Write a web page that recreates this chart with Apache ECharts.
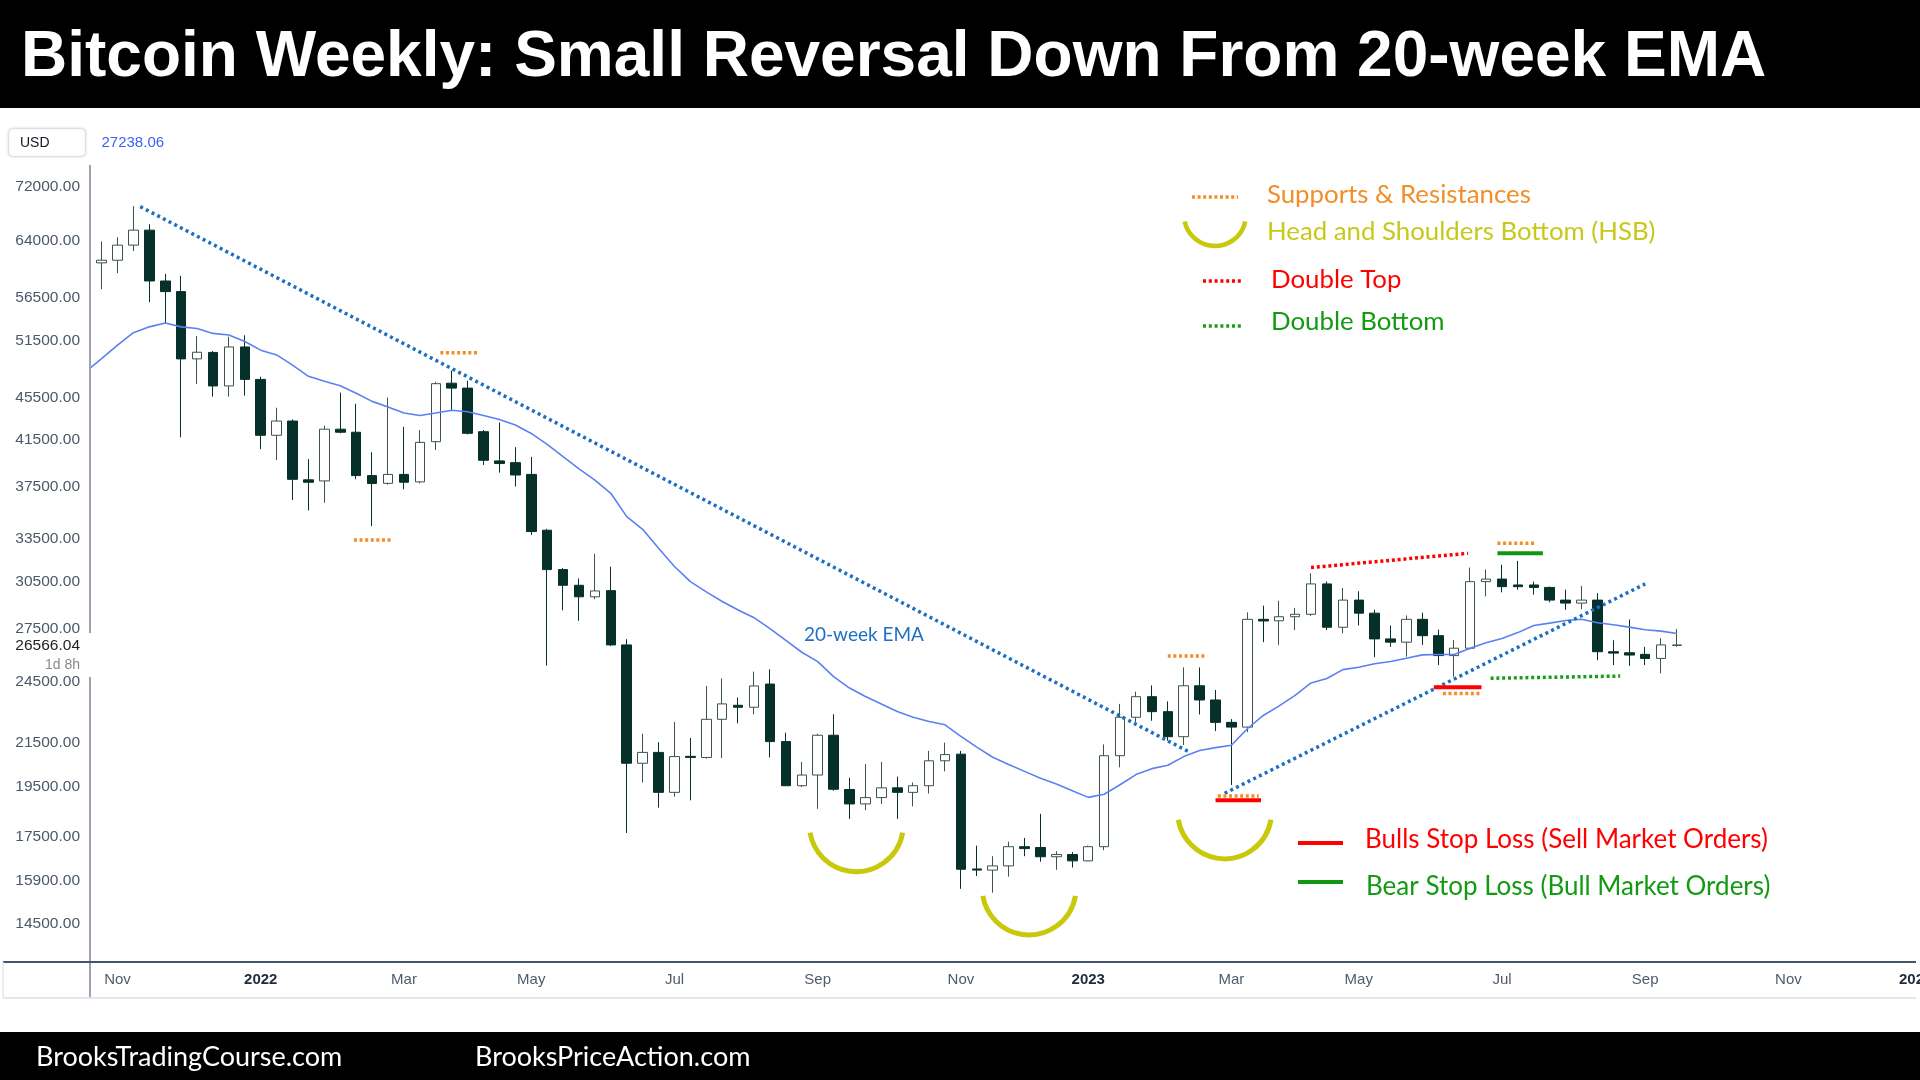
<!DOCTYPE html>
<html><head><meta charset="utf-8">
<script src="https://cdn.jsdelivr.net/npm/echarts@6/dist/echarts.min.js"></script>
<style>html,body{margin:0;padding:0;background:#fff}#c{width:1920px;height:1080px}</style>
</head><body><div id="c"></div>
<script>
// ---------- data (weekly BTC/USD) ----------
const weeks = [
'2021-10-25','2021-11-01','2021-11-08','2021-11-15','2021-11-22','2021-11-29','2021-12-06','2021-12-13','2021-12-20','2021-12-27',
'2022-01-03','2022-01-10','2022-01-17','2022-01-24','2022-01-31','2022-02-07','2022-02-14','2022-02-21','2022-02-28','2022-03-07',
'2022-03-14','2022-03-21','2022-03-28','2022-04-04','2022-04-11','2022-04-18','2022-04-25','2022-05-02','2022-05-09','2022-05-16',
'2022-05-23','2022-05-30','2022-06-06','2022-06-13','2022-06-20','2022-06-27','2022-07-04','2022-07-11','2022-07-18','2022-07-25',
'2022-08-01','2022-08-08','2022-08-15','2022-08-22','2022-08-29','2022-09-05','2022-09-12','2022-09-19','2022-09-26','2022-10-03',
'2022-10-10','2022-10-17','2022-10-24','2022-10-31','2022-11-07','2022-11-14','2022-11-21','2022-11-28','2022-12-05','2022-12-12',
'2022-12-19','2022-12-26','2023-01-02','2023-01-09','2023-01-16','2023-01-23','2023-01-30','2023-02-06','2023-02-13','2023-02-20',
'2023-02-27','2023-03-06','2023-03-13','2023-03-20','2023-03-27','2023-04-03','2023-04-10','2023-04-17','2023-04-24','2023-05-01',
'2023-05-08','2023-05-15','2023-05-22','2023-05-29','2023-06-05','2023-06-12','2023-06-19','2023-06-26','2023-07-03','2023-07-10',
'2023-07-17','2023-07-24','2023-07-31','2023-08-07','2023-08-14','2023-08-21','2023-08-28','2023-09-04','2023-09-11','2023-09-18'];
const open = [
61000,61350,63400,65500,58640,57300,49500,50200,46670,50800,
47340,41920,43240,38050,37960,42480,42200,38400,37760,38500,
37880,41340,46950,46450,42250,39650,39500,38500,34100,31300,
30250,29500,29900,26570,20540,21030,19280,20850,20800,22600,
23300,23200,24400,21530,19560,20020,21830,19400,18800,19060,
19470,19280,19560,20650,20950,16320,16280,16430,17130,17100,
16760,16840,16610,17130,20880,22700,23740,22980,21760,24310,
23570,22450,22220,28090,28000,28250,28400,30340,27610,29290,
28470,26920,26730,28090,27110,25960,26380,30490,30660,30270,
30270,30110,29290,29100,29290,26180,26120,26030,25800,26540];
const close = [
61350,63400,65500,58640,57300,49500,50220,46670,50800,47340,
41920,43240,38090,37850,42480,42200,38400,37750,38500,37850,
41280,46900,46450,42100,39700,39420,38450,34000,31300,30250,
29500,29880,26570,20540,21030,19280,20840,20800,22600,23370,
23200,24300,21530,19560,20020,21830,19410,18800,19060,19470,
19280,19560,20650,20930,16310,16280,16430,17130,17060,16760,
16840,16610,17130,20880,22700,23740,22980,21760,24310,23570,
22450,22220,28090,27990,28250,28400,30340,27610,29290,28470,
26920,26730,28090,27110,25960,26380,30490,30660,30160,30160,
30110,29290,29100,29290,26180,26100,25990,25800,26570,26566.04];
const high = [
63900,64500,69000,66350,59550,59300,52030,50350,51950,52110,
47620,44510,43400,39800,42800,46000,44900,40400,45500,42700,
42400,47100,48250,47200,42400,43100,40850,40000,34200,31400,
30700,32400,31500,26900,21900,21500,22470,21700,24300,24700,
23700,25070,25200,21950,20600,21900,22850,19900,20500,20600,
19950,19700,21100,21480,21100,17170,16780,17320,17460,18400,
16960,16930,17170,21400,23370,24000,24330,23500,25300,25300,
24090,22610,28520,28940,29250,28800,31050,30500,30070,29860,
28680,27720,28330,28500,27470,26860,31440,31300,31640,31900,
30490,30160,29960,30200,29740,26840,28080,26460,26960,27500];
const low = [
57600,59650,62600,56000,53420,41740,46880,45600,45600,45700,
40670,39720,36420,35600,36200,42100,38100,34400,37650,37270,
37760,40600,44300,42000,39300,38650,37500,33750,25400,28650,
28000,29350,26500,17650,19700,18650,19100,18950,20750,20770,
22400,22850,20800,19550,19500,18600,19350,18200,18550,18800,
18200,18700,19230,20180,15630,16070,15500,16050,16780,16580,
16290,16370,16600,17000,20360,22470,22530,21570,21370,22840,
22030,19590,21980,26730,26570,27440,28300,27440,27250,27720,
25870,26460,25900,26570,25430,24800,26300,29530,29790,29960,
29640,29150,28680,28720,25700,25430,25390,25430,24980,26460];
const ema20 = [
49520,51000,52400,53070,53520,53070,52880,52320,52140,51400,
50450,49930,48830,47660,47140,46700,45940,45130,44590,44010,
43760,44010,44270,44130,43760,43380,42870,42090,41100,40010,
38960,38030,36950,35120,34170,32790,31510,30490,29820,29200,
28670,28190,27530,26830,26150,25620,24800,24190,23750,23370,
22990,22700,22490,22330,21780,21270,20810,20480,20180,19880,
19630,19350,19070,19200,19600,20040,20300,20450,20840,21120,
21250,21360,22140,22790,23270,23810,24460,24700,25180,25310,
25500,25630,25810,26000,26020,26020,26380,26690,26940,27290,
27720,27860,28020,28100,27880,27760,27620,27460,27380,27238.06];
const emaLead = ['2021-10-18', 48150];
const lastPrice = '26566.04';
const lastEma = '27238.06';
const timeLeft = '1d 8h';

const yTicks = [72000,64000,56500,51500,45500,41500,37500,33500,30500,27500,24500,21500,19500,17500,15900,14500];
const xTickDates = ['2021-11-01','2022-01-03','2022-03-07','2022-05-02','2022-07-04','2022-09-05','2022-11-07','2023-01-02','2023-03-06','2023-05-01','2023-07-03','2023-09-04','2023-11-06','2024-01-01'];
const xTickLabels = ['Nov','2022','Mar','May','Jul','Sep','Nov','2023','Mar','May','Jul','Sep','Nov','2024'];

// annotations (dates, prices)
const downTrend = [['2021-11-11', 68930], ['2023-02-16', 21020]];
const upTrend = [['2023-03-03', 19240], ['2023-09-04', 30340]];
const srLevels = [
  ['2022-02-13','2022-03-02', 33380],
  ['2022-03-23','2022-04-09', 50170],
  ['2023-02-06','2023-02-23', 25940],
  ['2023-02-28','2023-03-18', 19130],
  ['2023-06-07','2023-06-24', 23910],
  ['2023-07-01','2023-07-18', 33150]];
const doubleTop = [['2023-04-10', 31440], ['2023-06-18', 32430]];
const doubleBottom = [['2023-06-28', 24710], ['2023-08-24', 24830]];
const bullStops = [['2023-02-27','2023-03-19', 18950], ['2023-06-03','2023-06-24', 24230]];
const bearStops = [['2023-07-01','2023-07-21', 32430]];
const hsbCenters = [['2022-09-22', 17970], ['2022-12-07', 15660], ['2023-03-03', 18480]];

// ---------- helpers ----------
const L = v => Math.log10(v);
const ts = s => Date.parse(s.length > 10 ? s + 'Z' : s + 'T00:00:00Z');
const xMin = ts('2021-10-19T21:30:00'), xMax = ts('2024-01-01T03:00:00');
const yTop = 75470, yBottom = 13330;

const ORANGE = '#f28d27', RED = '#ff0000', GREEN = '#139a13', OLIVE = '#c9c90c', BLUE = '#1f6fc5';

function seg(points, color, width, dash) {
  return { type: 'line', data: points.map(p => [ts(p[0]), L(p[1])]), symbol: 'none', silent: true,
    animation: false, z: 5, clip: false, lineStyle: { color: color, width: width, type: dash || 'solid', cap: 'butt' } };
}
const series = [];
series.push({
  type: 'candlestick', barWidth: 10, silent: true, z: 2,
  encode: { x: 0, y: [1, 2, 3, 4] },
  data: weeks.map((w, i) => [ts(w), L(open[i]), L(close[i]), L(low[i]), L(high[i])]),
  itemStyle: { color: '#ffffff', color0: '#06302a', borderColor: '#3b524d', borderColor0: '#06302a', borderColorDoji: '#3b524d', borderWidth: 1 }
});
series.push({
  type: 'line', symbol: 'none', silent: true, z: 3,
  data: [[ts(emaLead[0]), L(emaLead[1])]].concat(weeks.map((w, i) => [ts(w), L(ema20[i])])),
  lineStyle: { color: '#5b80f2', width: 1.6 }
});
series.push(seg(downTrend, '#1b6ec2', 3.5, [3, 3.4]));
series.push(seg(upTrend, '#1b6ec2', 3.5, [3, 3.4]));
srLevels.forEach(s => series.push(seg([[s[0], s[2]], [s[1], s[2]]], ORANGE, 3.5, [3, 2.6])));
series.push(seg(doubleTop, RED, 3.5, [3, 2.8]));
series.push(seg(doubleBottom, '#1a9e1a', 3.5, [3, 2.8]));
bullStops.forEach(s => series.push(seg([[s[0], s[2]], [s[1], s[2]]], RED, 4)));
bearStops.forEach(s => series.push(seg([[s[0], s[2]], [s[1], s[2]]], '#119611', 4)));
series.push({
  type: 'custom', silent: true, z: 6, clip: false,
  data: hsbCenters.map(c => [ts(c[0]), L(c[1])]),
  encode: { x: 0, y: 1 },
  renderItem: (p, api) => {
    const pt = api.coord([api.value(0), api.value(1)]);
    return { type: 'arc', shape: { cx: pt[0], cy: pt[1], r: 47, startAngle: 0.17, endAngle: Math.PI - 0.17, clockwise: true },
      style: { stroke: OLIVE, lineWidth: 5, fill: null } };
  }
});

function T(text, x, y, size, color, o) {
  o = o || {};
  return { type: 'text', x: x, y: y, z: 100, silent: true,
    style: { text: text, fill: color, fontSize: size, fontFamily: o.family || 'Lato', fontWeight: o.weight || 'normal',
      align: o.align || 'left', verticalAlign: 'middle' } };
}
function Ln(x1, y1, x2, y2, color, w, dash) {
  return { type: 'line', z: 100, silent: true, shape: { x1: x1, y1: y1, x2: x2, y2: y2 },
    style: { stroke: color, lineWidth: w, lineDash: dash || null, lineCap: 'butt' } };
}
const graphic = [
  { type: 'rect', z: 90, silent: true, shape: { x: 0, y: 0, width: 1920, height: 108 }, style: { fill: '#000' } },
  T('Bitcoin Weekly: Small Reversal Down From 20-week EMA', 21, 58, 64, '#ffffff', { family: 'Liberation Sans', weight: 'bold' }),
  { type: 'rect', z: 90, silent: true, shape: { x: 0, y: 1032, width: 1920, height: 48 }, style: { fill: '#000' } },
  T('BrooksTradingCourse.com', 36, 1057, 27, '#ffffff'),
  T('BrooksPriceAction.com', 475, 1057, 27, '#ffffff'),
  { type: 'rect', z: 95, silent: true, shape: { x: 8.5, y: 128.5, width: 77, height: 28, r: 4 },
    style: { fill: '#fff', stroke: '#dcdfe6', lineWidth: 1, shadowBlur: 3, shadowColor: 'rgba(0,0,0,0.12)' } },
  T('USD', 20, 143, 14, '#131722', { family: 'Liberation Sans' }),
  T(lastEma, 101.5, 143, 15, '#3a63f0', { family: 'Liberation Sans' }),
  Ln(90, 165, 90, 633, '#9aa3b0', 2),
  Ln(90, 677, 90, 998, '#9aa3b0', 2),
  Ln(3, 962, 1916, 962, '#44546a', 2),
  Ln(3, 998, 1916, 998, '#e3e6ee', 2),
  Ln(3, 962, 3, 998, '#e3e6ee', 1.5),
  T(lastPrice, 80, 645.5, 15.5, '#222222', { family: 'Liberation Sans', align: 'right' }),
  T(timeLeft, 80, 665, 14, '#8a8a8a', { family: 'Liberation Sans', align: 'right' }),
  // legend
  Ln(1192, 197, 1238, 197, ORANGE, 3.5, [3, 2.6]),
  T('Supports & Resistances', 1267, 195, 25.8, ORANGE),
  { type: 'arc', z: 100, silent: true, shape: { cx: 1215, cy: 215, r: 31, startAngle: 0.21, endAngle: Math.PI - 0.21, clockwise: true },
    style: { stroke: OLIVE, lineWidth: 4.5, fill: null } },
  T('Head and Shoulders Bottom (HSB)', 1267, 232, 25.8, '#c8c81a'),
  Ln(1203, 281, 1243, 281, RED, 3.5, [3, 2.8]),
  T('Double Top', 1271, 280, 25.8, RED),
  Ln(1203, 326, 1243, 326, '#1a9e1a', 3.5, [3, 2.8]),
  T('Double Bottom', 1271, 322, 25.8, GREEN),
  Ln(1298, 843, 1343, 843, RED, 4),
  T('Bulls Stop Loss (Sell Market Orders)', 1365, 839.5, 26, RED),
  Ln(1298, 882, 1343, 882, '#119611', 4),
  T('Bear Stop Loss (Bull Market Orders)', 1366, 887, 26, GREEN),
  T('20-week EMA', 804, 635, 19, BLUE)
];

const chart = echarts.init(document.getElementById('c'), null, { renderer: 'canvas' });
chart.setOption({
  animation: false,
  backgroundColor: '#ffffff',
  grid: { left: 90, right: 4, top: 165, bottom: 118, containLabel: false, outerBoundsMode: 'none' },
  xAxis: {
    type: 'value', min: xMin, max: xMax,
    axisLine: { show: false }, axisTick: { show: false }, splitLine: { show: false },
    axisLabel: {
      customValues: xTickDates.map(ts), margin: 10, color: '#4f5b6b', fontSize: 15, fontFamily: 'Liberation Sans',
      hideOverlap: false,
      formatter: v => {
        let i = xTickDates.findIndex(d => Math.abs(ts(d) - v) < 86400000);
        if (i < 0) return '';
        const s = xTickLabels[i];
        return /^\d{4}$/.test(s) ? '{yr|' + s + '}' : s;
      },
      rich: { yr: { fontWeight: 'bold', color: '#1f2b3d', fontSize: 15, fontFamily: 'Liberation Sans' } }
    }
  },
  yAxis: {
    type: 'value', min: L(yBottom), max: L(yTop),
    axisLine: { show: false }, axisTick: { show: false }, splitLine: { show: false },
    axisLabel: {
      customValues: yTicks.map(L), margin: 10, color: '#4b5868', fontSize: 15.5, fontFamily: 'Liberation Sans',
      formatter: v => {
        let best = yTicks[0];
        yTicks.forEach(t => { if (Math.abs(L(t) - v) < Math.abs(L(best) - v)) best = t; });
        return best.toFixed(2);
      }
    }
  },
  series: series,
  graphic: graphic
});
</script></body></html>
